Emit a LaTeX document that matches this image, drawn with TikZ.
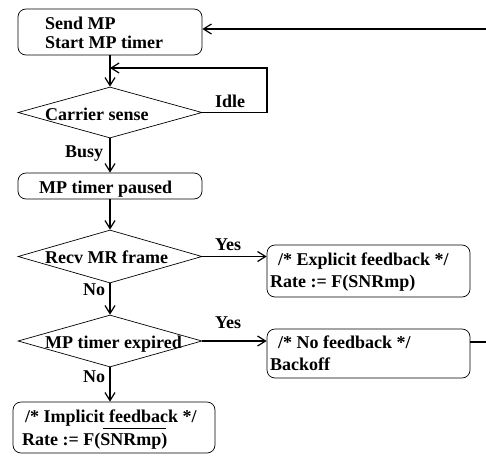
\documentclass[tikz,border=0pt]{standalone}
\usepackage{fontspec}
\setmainfont{Liberation Serif}
\usetikzlibrary{arrows.meta,shapes.geometric}
\begin{document}
\begin{tikzpicture}[x=1pt,y=-1pt,
  box/.style={draw, line width=0.7pt, rounded corners=8pt, inner sep=0pt},
  dia/.style={draw, line width=0.7pt, diamond, inner sep=0pt, minimum width=184pt},
  txt/.style={anchor=base west, inner sep=0pt, font=\fontsize{18}{19}\selectfont\bfseries},
  conn/.style={line width=1.2pt},
  arr/.style={conn, -{Straight Barb[length=8pt,width=10pt]}},
]
\useasboundingbox (0,0) rectangle (486,455);

% boxes and decisions
\node[box, minimum width=184pt, minimum height=46pt] (b1) at (110,32) {};
\node[dia, minimum height=51pt] (d1) at (110,112.5) {};
\node[box, minimum width=184pt, minimum height=26pt] (b2) at (110,186) {};
\node[dia, minimum height=53pt] (d2) at (110,256.5) {};
\node[box, minimum width=203pt, minimum height=52pt] (b3) at (368.5,271) {};
\node[dia, minimum height=52pt] (d3) at (110,341) {};
\node[box, minimum width=203pt, minimum height=49pt] (b4) at (368.5,353.5) {};
\node[box, minimum width=202pt, minimum height=51pt] (b5) at (114,427.5) {};

% texts
\node[txt] (t1a) at (45,29) {Send MP};
\node[txt] (t1b) at (45,48) {Start MP timer};
\node[txt] (td1) at (45,120) {Carrier sense};
\node[txt] (t2) at (39,193) {MP timer paused};
\node[txt] (td2) at (45,263) {Recv MR frame};
\node[txt] (t3a) at (278,265) {/* Explicit feedback */};
\node[txt] (t3b) at (270,287) {Rate := F(SNRmp)};
\node[txt] (td3) at (45,348) {MP timer expired};
\node[txt] (t4a) at (278,348) {/* No feedback */};
\node[txt] (t4b) at (270,370) {Backoff};
\node[txt] (t5a) at (25,422) {/* Implicit feedback */};
\node[txt] (t5b) at (22,445) {Rate := F(\makebox[0pt][l]{\hspace{3pt}\raisebox{16pt}{\rule{63pt}{0.9pt}}}SNRmp)};

% labels
\node[txt] (lidle) at (215,107) {Idle};
\node[txt] (lbusy) at (65,157) {Busy};
\node[txt] (lyes1) at (215,250) {Yes};
\node[txt] (lno1) at (83,295) {No};
\node[txt] (lyes2) at (215,328) {Yes};
\node[txt] (lno2) at (83,382) {No};

% connectors
\coordinate (rt) at (486,29);
\coordinate (rb) at (486,342);
\coordinate (lc) at (267,68);
\coordinate (lp) at (110,68);

\draw[arr] (rt) -- (rt -| b1.east);
\draw[arr] (b1.south) -- (d1.north);
\draw[arr] (d1.east) -| (lc) -- (lp);
\draw[arr] (d1.south) -- (b2.north);
\draw[arr] (b2.south) -- (d2.north);
\draw[arr] (d2.east) -- (d2.east -| b3.west);
\draw[arr] (d2.south) -- (d3.north);
\draw[arr] (d3.east) -- (d3.east -| b4.west);
\draw[arr] (d3.south) -- (d3.south |- b5.north);
\draw[conn] (rb -| b4.east) -- (rb);
\end{tikzpicture}
\end{document}
